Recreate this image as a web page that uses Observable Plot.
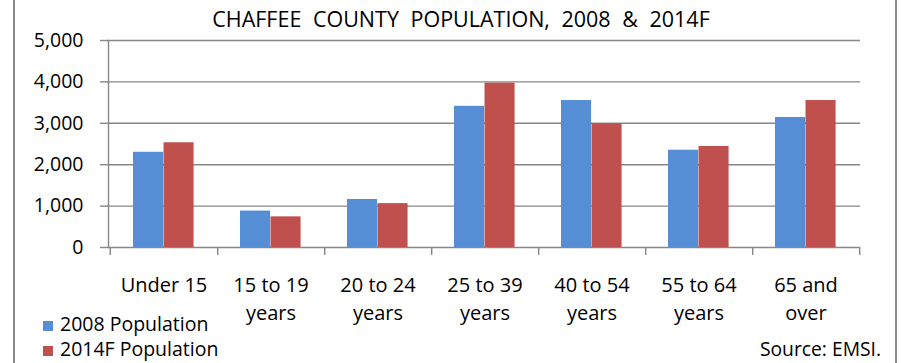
<!DOCTYPE html>
<html><head><meta charset="utf-8">
<script src="https://cdn.jsdelivr.net/npm/d3@7"></script>
<script src="https://cdn.jsdelivr.net/npm/@observablehq/plot@0.6"></script>
<style>
body{margin:0;background:#fff;}
#wrap{position:relative;width:902px;height:363px;overflow:hidden;font-family:"Open Sans", sans-serif;color:#000;}
#border{position:absolute;left:13px;top:-4px;width:884px;height:380px;border-left:2px solid #8a8a8a;border-right:2px solid #8a8a8a;box-sizing:border-box;}
#title{position:absolute;left:10px;top:6px;width:902px;text-align:center;font-size:21.5px;word-spacing:6px;white-space:nowrap;line-height:1.2;}
#chart{position:absolute;left:0;top:0;}
.leg{position:absolute;left:43px;font-size:19.5px;white-space:nowrap;line-height:1;}
.leg span{display:inline-block;width:10px;height:10px;margin-right:7px;vertical-align:0px;}
#source{position:absolute;right:21px;top:339px;font-size:19.3px;white-space:nowrap;line-height:1;}
</style>
</head><body>
<div id="wrap">
  <div id="border"></div>
  <div id="chart"></div>
  <div id="title">CHAFFEE COUNTY POPULATION, 2008 &amp; 2014F</div>
  <div id="legend"></div>
  <div id="source">Source: EMSI.</div>
</div>
<script>
const categories = ["Under 15", "15 to 19\nyears", "20 to 24\nyears", "25 to 39\nyears", "40 to 54\nyears", "55 to 64\nyears", "65 and\nover"];
const pop2008 = [2300, 880, 1160, 3410, 3550, 2350, 3140];
const pop2014F = [2530, 740, 1060, 3970, 2990, 2440, 3550];
const seriesNames = ["2008 Population", "2014F Population"];
const yTicks = [0, 1000, 2000, 3000, 4000, 5000];

const colors = ["#558ED5", "#C0504D"];
const rows2008 = categories.map((c, i) => ({cat: c, series: seriesNames[0], value: pop2008[i]}));
const rows2014 = categories.map((c, i) => ({cat: c, series: seriesNames[1], value: pop2014F[i]}));

const W = 902, H = 363, mL = 108, mR = 42;
const bw = (W - mL - mR) / categories.length;
const grey = "#878787";
const fmt = d3.format(",");

const chart = Plot.plot({
  width: W, height: H,
  marginTop: 40, marginBottom: 116, marginLeft: mL, marginRight: mR,
  x: {domain: categories, padding: 0, axis: null},
  y: {domain: [0, 5000], axis: null},
  color: {domain: seriesNames, range: colors},
  style: {fontFamily: "'Open Sans', sans-serif", fontSize: "20px", background: "transparent", overflow: "visible", color: "#000"},
  marks: [
    Plot.gridY(yTicks, {stroke: grey, strokeOpacity: 1, strokeWidth: 1.4}),
    Plot.barY(rows2008, {x: "cat", y: "value", fill: "series", insetLeft: 23, insetRight: bw - 53.5}),
    Plot.barY(rows2014, {x: "cat", y: "value", fill: "series", insetLeft: 53.5, insetRight: bw - 84}),
    Plot.axisY(yTicks, {label: null, tickFormat: fmt, tickSize: 8, tickPadding: 17, stroke: grey, fill: "#000", strokeWidth: 1.4, fontSize: 19.5}),
    Plot.frame({anchor: "left", stroke: grey, strokeWidth: 1.4}),
    Plot.axisX({label: null, tickSize: 0, tickPadding: 24, lineHeight: 1.43, fontSize: 20, fill: "#000"}),
    Plot.axisX({label: null, tickSize: 8, tickFormat: () => "", dx: bw / 2, stroke: grey, strokeWidth: 1.4}),
    Plot.axisX([categories[0]], {label: null, tickSize: 8, tickFormat: () => "", dx: -bw / 2, stroke: grey, strokeWidth: 1.4})
  ]
});
document.getElementById("chart").appendChild(chart);

const legend = document.getElementById("legend");
seriesNames.forEach((name, i) => {
  const d = document.createElement("div");
  d.className = "leg";
  d.style.top = (314 + i * 25) + "px";
  d.innerHTML = `<span style="background:${colors[i]}"></span>${name}`;
  legend.appendChild(d);
});
</script>
</body></html>
